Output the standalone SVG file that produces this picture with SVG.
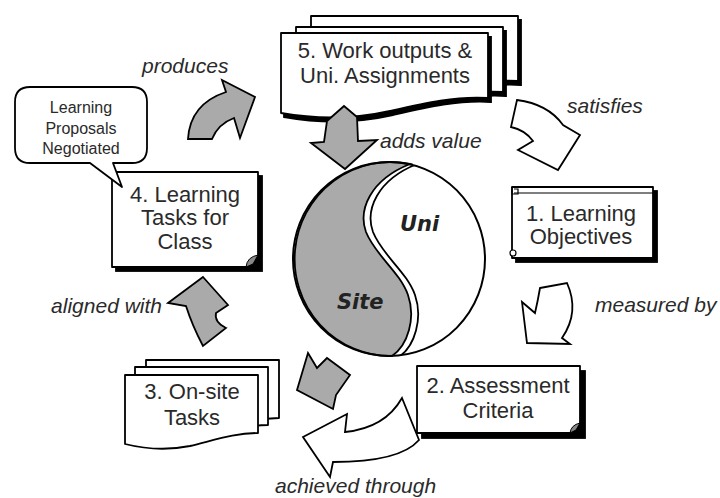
<svg xmlns="http://www.w3.org/2000/svg" width="720" height="498" viewBox="0 0 720 498">
<style>
  .pg{fill:#fff;stroke:#000;stroke-width:1.8;stroke-linejoin:round}
  .sh{fill:#000;stroke:#000;stroke-width:1.8}
  .t{font-family:"Liberation Sans",Arial,sans-serif;font-size:22px;fill:#2a2a2a;text-anchor:middle}
  .bt{font-family:"Liberation Sans",Arial,sans-serif;font-size:16px;fill:#2a2a2a;text-anchor:middle}
  .lbl{font-family:"Liberation Sans",Arial,sans-serif;font-size:21px;font-style:italic;fill:#2a2a2a}
  .ga{fill:#aaa;stroke:#000;stroke-width:1.8;stroke-linejoin:miter}
  .wa{fill:#fff;stroke:#000;stroke-width:1.8;stroke-linejoin:miter}
  .yy{font-family:"DejaVu Sans",Verdana,sans-serif;font-size:21px;font-weight:bold;font-style:italic;fill:#222}
</style>
<defs>
  <!-- wavy-bottomed document page, large -->
  <path id="doc5" d="M0,0 H207 V65 C174,63 144,70 109,78 C69,87 34,86 0,80 Z"/>
  <!-- wavy-bottomed document page, small -->
  <path id="doc3" d="M0,0 H133 V58 C110,58 90,65 65,71 C40,76 20,74 0,69 Z"/>
  <clipPath id="yyClip"><ellipse cx="389" cy="259" rx="96" ry="97"/></clipPath>
</defs>
<rect width="720" height="498" fill="#fff"/>

<!-- centre: Site / Uni -->
<g id="yinyang">
  <ellipse cx="389" cy="259" rx="96" ry="97" fill="#fff"/>
  <path d="M410,164 A96,97 0 1 0 392,356 C408,345 416,318 408,295 C400,272 375,255 366,232 C358,210 370,180 410,164 Z" fill="#aaa" stroke="#000" stroke-width="1.8"/>
  <g clip-path="url(#yyClip)">
    <path d="M399,357 C415,346 423,318 415,295 C407,272 382,255 373,232 C365,210 377,180 417,164" fill="none" stroke="#000" stroke-width="1.8"/>
  </g>
  <ellipse cx="389" cy="259" rx="96" ry="97" fill="none" stroke="#000" stroke-width="2"/>
  <text class="yy" x="400" y="231">Uni</text>
  <text class="yy" x="337" y="309">Site</text>
</g>

<!-- 5. Work outputs -->
<g id="node5">
  <use href="#doc5" class="sh" transform="translate(314,20)"/>
  <use href="#doc5" class="pg" transform="translate(311,16)"/>
  <use href="#doc5" class="sh" transform="translate(299,31)"/>
  <use href="#doc5" class="pg" transform="translate(296,27)"/>
  <use href="#doc5" class="sh" transform="translate(284,37)"/>
  <use href="#doc5" class="pg" transform="translate(281,33)"/>
  <text class="t" x="385" y="58">5. Work outputs &amp;</text>
  <text class="t" x="385" y="83">Uni. Assignments</text>
</g>

<!-- 1. Learning Objectives (scroll) -->
<g id="node1">
  <rect x="516" y="191" width="141" height="71" class="sh"/>
  <rect x="512" y="187" width="141" height="71" class="pg"/>
  <path d="M514,193 H653" fill="none" stroke="#000" stroke-width="1.2"/>
  <path d="M512,187 v7 h6 v-5 h-4" fill="none" stroke="#000" stroke-width="1.2"/>
  <circle cx="513" cy="253" r="3" fill="#fff" stroke="#000" stroke-width="1.2"/>
  <text class="t" x="581" y="221">1. Learning</text>
  <text class="t" x="581" y="244">Objectives</text>
</g>

<!-- 2. Assessment Criteria -->
<g id="node2">
  <rect x="422" y="371" width="163" height="67" class="sh"/>
  <path d="M417,366 H580 V423 Q578,431 570,433 H417 Z" class="pg"/>
  <path d="M570,433 Q571,425 580,423 L576,430 Z" fill="#888" stroke="#000" stroke-width="1"/>
  <text class="t" x="498" y="393">2. Assessment</text>
  <text class="t" x="498" y="418">Criteria</text>
</g>

<!-- 3. On-site Tasks -->
<g id="node3">
  <use href="#doc3" class="pg" transform="translate(146,360)"/>
  <use href="#doc3" class="pg" transform="translate(135,367)"/>
  <use href="#doc3" class="pg" transform="translate(125,375)"/>
  <text class="t" x="192" y="399">3. On-site</text>
  <text class="t" x="192" y="425">Tasks</text>
</g>

<!-- 4. Learning Tasks for Class -->
<g id="node4">
  <rect x="116" y="176" width="146" height="95" class="sh"/>
  <path d="M112,172 H258 V255 Q256,265 246,267 H112 Z" class="pg"/>
  <path d="M246,267 Q247,257 258,255 L253,264 Z" fill="#888" stroke="#000" stroke-width="1"/>
  <text class="t" x="185" y="202">4. Learning</text>
  <text class="t" x="185" y="225">Tasks for</text>
  <text class="t" x="185" y="249">Class</text>
</g>

<!-- callout on node 4 -->
<g id="callout">
  <path d="M30,87 H132 Q147,87 147,102 V148 Q147,163 132,163 H113 L122,187 L90,163 H30 Q15,163 15,148 V102 Q15,87 30,87 Z" class="pg"/>
  <text class="bt" x="81" y="113">Learning</text>
  <text class="bt" x="81" y="134">Proposals</text>
  <text class="bt" x="81" y="154">Negotiated</text>
</g>

<!-- block arrows and their labels -->
<g id="connectors">
  <path class="ga" d="M188,139 Q190,104 226,92 L222,80 L255,97 L240,138 L234,118 Q218,124 212,139 Z"/>
  <text class="lbl" x="142" y="73">produces</text>

  <path class="ga" d="M327,121 L344,106 L357,117 L358,141 L377,140 L345,169 L311,143 L324,142 Z"/>
  <text class="lbl" x="380" y="148">adds value</text>

  <path class="wa" d="M517,100 Q548,104 563,125 L580,135 L558,170 L518,150 L533,141 Q525,130 511,127 Z"/>
  <text class="lbl" x="567" y="113">satisfies</text>

  <path class="wa" d="M540,288 L567,283 Q580,312 562,338 L570,344 L527,343 L522,302 L535,313 Q538,300 540,288 Z"/>
  <text class="lbl" x="595" y="312">measured by</text>

  <path class="wa" d="M303,437 L347,414 L345,432 Q385,428 402,398 L419,440 Q400,462 333,462 L330,477 Z"/>
  <text class="lbl" x="275" y="493">achieved through</text>

  <path class="ga" d="M308,353 L317,368 L327,358 L350,375 L336,395 L333,409 L297,390 Z"/>

  <path class="ga" d="M203,277 L228,305 L216,313 Q214,322 226,328 L203,346 Q192,325 186,306 L168,303 Z"/>
  <text class="lbl" x="162" y="313" text-anchor="end">aligned with</text>
</g>
</svg>
